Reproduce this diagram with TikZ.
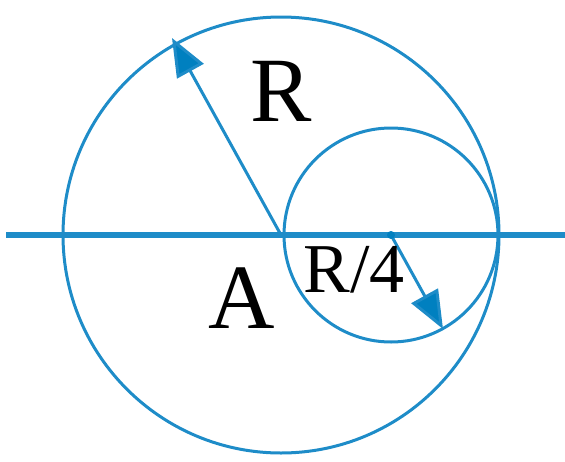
\documentclass[tikz,border=0pt]{standalone}
\usepackage{fontspec}
\setmainfont{Liberation Serif}
\usetikzlibrary{arrows.meta}
\definecolor{lineblue}{RGB}{30,140,200}
\definecolor{tipblue}{RGB}{0,128,192}
\begin{document}
\begin{tikzpicture}[x=1pt,y=-1pt,
  circ/.style={draw=lineblue,line width=3pt},
  axis/.style={draw=lineblue,line width=5.5pt},
  radius arrow/.style={draw=lineblue,line width=3pt,-{Triangle[length=38pt,width=30pt,fill=tipblue]}},
  lbl/.style={text=black,inner sep=0pt}]
\useasboundingbox (0,0) rectangle (565,461);
\coordinate (O) at (281,235);
\coordinate (C) at (391,235);
\coordinate (P) at (172,38);
\coordinate (Q) at (443,329);
\coordinate (L) at (6,235);
\coordinate (Rt) at (565,235);
\draw[circ] (O) circle[radius=218pt];
\draw[circ] (C) circle[radius=107pt];
\draw[axis] (L) -- (Rt);
\draw[radius arrow] (O) -- (P);
\draw[radius arrow] (C) -- (Q);
\fill[tipblue] (C) circle[radius=4pt];
\node[lbl,font=\fontsize{92}{92}\selectfont] (R) at (281,91) {R};
\node[lbl,font=\fontsize{92}{92}\selectfont] (A) at (242,298) {A};
\node[lbl,font=\fontsize{70}{70}\selectfont] (R4) at (354,270) {R/4};
\end{tikzpicture}
\end{document}
